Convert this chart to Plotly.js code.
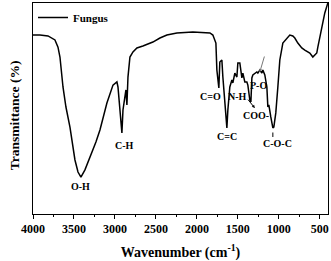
<!DOCTYPE html>
<html><head><meta charset="utf-8">
<script src="https://cdn.plot.ly/plotly-3.0.1.min.js"></script>
<style>html,body{margin:0;padding:0;background:#fff}#c{width:331px;height:261px}</style>
</head><body><div id="c"></div>
<script>
const wavenumber = [4000,3915,3817,3732,3695,3671,3634,3598,3549,3488,3451,3415,3366,3305,3268,3232,3183,3098,3024,2976,2963,2939,2915,2902,2878,2866,2854,2841,2817,2780,2732,2659,2537,2451,2366,2244,2049,1841,1805,1768,1756,1732,1720,1695,1683,1659,1634,1622,1598,1573,1561,1537,1512,1500,1476,1451,1439,1415,1390,1378,1354,1341,1329,1317,1268,1256,1232,1207,1195,1171,1146,1134,1122,1098,1073,1061,1037,1012,988,951,902,866,829,805,768,720,683,622,585,537,524,488,463,439,402];
const transmittance = [84.8,84.8,84.4,82.5,79.1,74.4,60.2,50.7,41.2,25.6,19.9,17.5,20.9,27.0,30.3,34.1,39.8,52.6,61.1,62.6,60.2,47.9,38.4,49.3,57.8,58.8,51.7,64.9,74.4,76.8,78.7,79.6,81.5,83.4,84.8,85.8,86.3,85.8,84.8,81.0,68.2,59.7,72.0,73.0,64.9,52.6,40.8,49.3,60.2,63.5,62.1,66.8,64.9,71.6,71.6,64.5,66.8,62.6,62.6,61.1,54.0,53.1,64.5,65.9,67.3,66.8,68.2,66.8,68.2,65.9,60.2,50.7,51.7,46.0,40.8,41.2,47.9,60.2,73.0,81.0,83.4,84.8,84.4,83.4,81.0,78.7,77.7,76.3,74.4,76.3,79.1,85.8,90.5,95.3,100];
const seriesName = "Fungus";
const tickValues = [4000,3500,3000,2500,2000,1500,1000,500];
const bandLabels = ["O-H","C-H","C=O","N-H","P-O","COO-","C=C","C-O-C"];
const bandX = [3415,2878,1829,1500,1244,1280,1634,1012];
const bandY = [12.8,32.7,55.5,55.5,61.1,46.9,36.5,33.6];

const F = "Liberation Serif, Times New Roman, serif";
const ann = bandLabels.map((t,i)=>({x:bandX[i],y:bandY[i],text:"<b>"+t+"</b>",showarrow:false,font:{family:F,size:10,color:"#000"}}));
ann.push({x:1232,y:67.3,ax:5,ay:-17,text:"",showarrow:true,arrowhead:2,arrowsize:0.6,arrowwidth:1,arrowcolor:"#777"});
ann.push({x:1293,y:50.2,ax:-8,ay:-10,text:"",showarrow:true,arrowhead:2,arrowsize:0.6,arrowwidth:1,arrowcolor:"#000"});
ann.push({x:1073,y:36.5,ax:0,ay:-6,text:"",showarrow:true,arrowhead:0,arrowwidth:1,arrowcolor:"#000"});
ann.push({xref:"paper",yref:"paper",x:-0.064,y:0.469,xanchor:"center",yanchor:"middle",textangle:-90,text:"<b>Transmittance (%)</b>",showarrow:false,font:{family:F,size:13.5,color:"#000"}});

Plotly.newPlot("c",[{x:wavenumber,y:transmittance,type:"scatter",mode:"lines",name:"<b>"+seriesName+"</b>",line:{color:"#000",width:1.5}}],{
  width:331,height:261,
  margin:{l:33,r:3,t:3,b:47},
  paper_bgcolor:"#fff",plot_bgcolor:"#fff",
  showlegend:true,
  legend:{x:0,y:1,xanchor:"left",yanchor:"top",bgcolor:"rgba(0,0,0,0)",font:{family:F,size:11,color:"#000"},tracegroupgap:0,itemwidth:30},
  xaxis:{range:[4000,400],tickvals:tickValues,ticktext:tickValues.map(v=>"<b>"+v+"</b>"),ticks:"outside",ticklen:4,tickcolor:"#000",
    minor:{dtick:250,ticks:"outside",ticklen:2,tickcolor:"#000"},
    showline:true,linecolor:"#000",linewidth:1,mirror:true,showgrid:false,zeroline:false,
    tickfont:{family:F,size:12,color:"#000"},
    title:{text:"<b>Wavenumber (cm<sup>-1</sup>)</b>",font:{family:F,size:14,color:"#000"},standoff:13}},
  yaxis:{range:[0,100],showticklabels:false,ticks:"",showline:true,linecolor:"#000",linewidth:1,mirror:true,showgrid:false,zeroline:false},
  annotations:ann
},{staticPlot:true});
</script></body></html>
